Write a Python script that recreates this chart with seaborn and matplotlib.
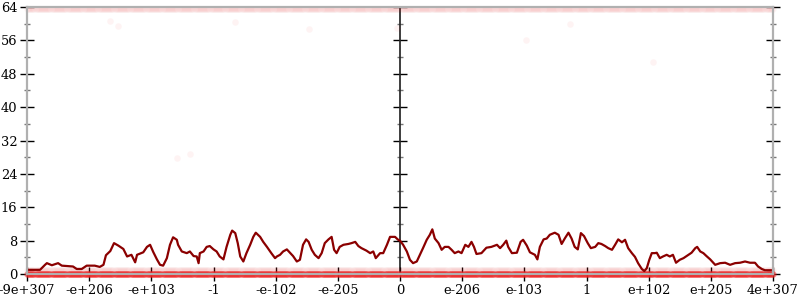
import numpy as np
import pandas as pd
import matplotlib
matplotlib.use("Agg")
import matplotlib.pyplot as plt
import seaborn as sns

# ---- data ----
tick_pos = [-6, -5, -4, -3, -2, -1, 0, 1, 2, 3, 4, 5, 6]
tick_labels = ["-9e+307", "-e+206", "-e+103", "-1", "-e-102", "-e-205", "0",
               "e-206", "e-103", "1", "e+102", "e+205", "4e+307"]
y_ticks = [0, 8, 16, 24, 32, 40, 48, 56, 64]

avg_x = [-6.00, -5.79, -5.71, -5.68, -5.60, -5.50, -5.44, -5.26, -5.20, -5.12, -5.04, -4.91,
         -4.83, -4.77, -4.73, -4.66, -4.60, -4.53, -4.45, -4.39, -4.32, -4.26, -4.23, -4.13,
         -4.07, -4.02, -3.97, -3.91, -3.86, -3.81, -3.75, -3.70, -3.65, -3.59, -3.57, -3.51,
         -3.43, -3.38, -3.32, -3.27, -3.24, -3.22, -3.16, -3.11, -3.06, -3.00, -2.95, -2.90,
         -2.84, -2.79, -2.73, -2.70, -2.65, -2.61, -2.57, -2.52, -2.47, -2.41, -2.36, -2.32,
         -2.25, -2.20, -2.14, -2.07, -2.01, -1.98, -1.93, -1.88, -1.82, -1.77, -1.72, -1.66,
         -1.61, -1.56, -1.51, -1.47, -1.42, -1.37, -1.31, -1.26, -1.21, -1.15, -1.10, -1.06,
         -1.02, -0.97, -0.91, -0.83, -0.78, -0.72, -0.67, -0.62, -0.54, -0.48, -0.43, -0.39,
         -0.32, -0.27, -0.21, -0.16, -0.08, -0.03, 0.00, 0.05, 0.11, 0.16, 0.21, 0.27,
         0.32, 0.37, 0.43, 0.48, 0.52, 0.56, 0.62, 0.67, 0.72, 0.78, 0.83, 0.88,
         0.94, 0.99, 1.05, 1.10, 1.15, 1.19, 1.23, 1.31, 1.39, 1.47, 1.56, 1.61,
         1.66, 1.71, 1.74, 1.80, 1.88, 1.94, 1.98, 2.04, 2.09, 2.17, 2.21, 2.25,
         2.31, 2.36, 2.41, 2.49, 2.55, 2.60, 2.65, 2.71, 2.76, 2.81, 2.86, 2.91,
         2.96, 3.02, 3.07, 3.14, 3.19, 3.24, 3.30, 3.35, 3.41, 3.46, 3.51, 3.57,
         3.62, 3.67, 3.73, 3.78, 3.83, 3.89, 3.93, 3.97, 4.01, 4.05, 4.10, 4.13,
         4.18, 4.23, 4.29, 4.34, 4.39, 4.44, 4.50, 4.56, 4.64, 4.69, 4.75, 4.78,
         4.83, 4.88, 4.93, 4.99, 5.07, 5.15, 5.23, 5.31, 5.39, 5.47, 5.55, 5.63,
         5.71, 5.76, 5.82, 5.87, 6.00]
avg_y = [1.0, 1.0, 2.2, 2.6, 2.1, 2.6, 2.0, 1.8, 1.2, 1.2, 2.0, 2.0,
         1.7, 2.2, 4.5, 5.5, 7.4, 6.8, 6.0, 4.2, 4.6, 2.8, 4.6, 5.2,
         6.5, 7.0, 5.3, 3.5, 2.2, 2.0, 3.8, 7.0, 8.8, 8.2, 7.0, 5.4,
         5.0, 5.4, 4.3, 4.2, 2.6, 5.0, 5.4, 6.5, 6.7, 5.9, 5.4, 4.2,
         3.5, 6.5, 9.4, 10.4, 9.8, 7.4, 4.2, 3.0, 5.0, 7.0, 8.9, 9.9,
         8.9, 7.7, 6.5, 5.0, 3.8, 4.2, 4.6, 5.4, 5.9, 5.1, 4.3, 3.0,
         3.4, 7.0, 8.3, 7.7, 5.8, 4.6, 3.8, 5.0, 7.4, 8.3, 8.9, 5.8,
         5.0, 6.5, 7.0, 7.2, 7.4, 7.7, 6.7, 6.2, 5.6, 5.0, 5.4, 3.8,
         5.0, 5.0, 7.0, 8.9, 8.9, 8.2, 8.0, 7.0, 5.4, 3.4, 2.6, 3.0,
         4.6, 6.2, 8.2, 9.4, 10.7, 8.5, 7.4, 5.8, 6.5, 6.5, 5.8, 5.0,
         5.4, 5.0, 7.0, 6.5, 7.7, 6.5, 4.8, 5.0, 6.3, 6.5, 7.0, 6.2,
         7.0, 8.0, 6.5, 5.0, 5.1, 7.7, 8.2, 6.8, 5.2, 4.6, 3.5, 6.5,
         8.3, 8.5, 9.4, 9.9, 9.4, 7.2, 8.5, 9.9, 8.5, 6.5, 5.9, 9.8,
         9.1, 7.4, 6.2, 6.5, 7.4, 7.2, 6.7, 6.2, 5.8, 7.0, 8.3, 7.6,
         8.2, 6.2, 5.0, 4.1, 2.6, 1.2, 0.7, 1.4, 3.4, 5.0, 5.0, 5.1,
         3.8, 4.2, 4.6, 4.2, 4.6, 2.7, 3.4, 3.8, 4.6, 5.1, 6.2, 6.5,
         5.4, 5.0, 4.3, 3.5, 2.2, 2.6, 2.7, 2.2, 2.6, 2.7, 3.0, 2.7,
         2.7, 1.8, 1.2, 0.9, 0.9]

# sample grid of raw error samples (dense bands at 0, 1 and 64 bits)
band_x = list(np.linspace(-6, 6, 700))
band0_y = 0
band1_y = 1
band64_y = 64
stray_x = [-4.67, -4.53, -2.65, -1.46, -0.05, 2.74, 2.03, 4.07, -3.59, -3.37]
stray_y = [60.7, 59.5, 60.5, 58.8, 59.0, 59.9, 56.1, 50.9, 27.7, 28.8]

# ---- plot ----
sns.set_theme(style="white")
plt.rcParams["font.family"] = ["DejaVu Serif"]

fig = plt.figure(figsize=(8, 3), dpi=100)
ax = fig.add_axes([27 / 800, 26 / 300, 746 / 800, 267 / 300])

dot_color = "#ee2222"
sns.scatterplot(x=band_x, y=[band64_y - 0.4] * len(band_x), ax=ax, color=dot_color,
                alpha=0.035, s=22, linewidth=0, clip_on=False)
sns.scatterplot(x=band_x, y=[band1_y] * len(band_x), ax=ax, color=dot_color,
                alpha=0.035, s=22, linewidth=0, clip_on=False)
sns.scatterplot(x=band_x, y=[band0_y] * len(band_x), ax=ax, color=dot_color,
                alpha=0.4, s=22, linewidth=0, clip_on=False)
sns.scatterplot(x=stray_x, y=stray_y, ax=ax, color=dot_color,
                alpha=0.05, s=22, linewidth=0)

df = pd.DataFrame({"x": avg_x, "y": avg_y})
sns.lineplot(data=df, x="x", y="y", ax=ax, color="#8b0000", linewidth=1.6,
             estimator=None, sort=False)

ax.set_xlim(-6, 6)
ax.set_ylim(0, 64)
ax.set_xlabel("")
ax.set_ylabel("")
ax.set_xticks(tick_pos)
ax.set_xticklabels(tick_labels)
ax.set_yticks(y_ticks)
ax.set_yticks(np.arange(4, 64, 8), minor=True)

for s in ax.spines.values():
    s.set_color("#b0b0b0")
    s.set_linewidth(1.6)
ax.tick_params(axis="both", which="major", direction="inout", length=10, width=1,
               color="black", labelsize=9.4, labelcolor="black", pad=2)
ax.tick_params(axis="y", which="major", left=True, right=True, labelleft=True)
ax.tick_params(axis="x", which="major", bottom=True, top=False)
ax.tick_params(axis="y", which="minor", left=True, right=True, direction="inout",
               length=5, width=1, color="#777777")

sec = ax.secondary_yaxis(0.5)
sec.spines["left"].set_color("#b0b0b0")
sec.spines["left"].set_linewidth(1.6)
sec.set_yticks(y_ticks)
sec.set_yticks(np.arange(4, 64, 8), minor=True)
sec.tick_params(which="major", direction="inout", length=10, width=1, color="black",
                labelleft=False)
sec.tick_params(which="minor", direction="inout", length=5, width=1, color="#777777")
sec.set_yticklabels([])

fig.savefig("out.png", dpi=100, facecolor="white")
